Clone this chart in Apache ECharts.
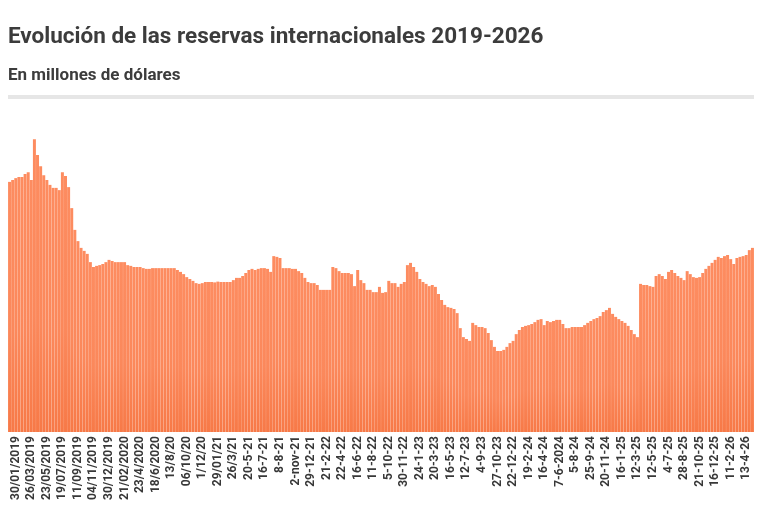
<!DOCTYPE html>
<html>
<head>
<meta charset="utf-8">
<title>Reservas internacionales</title>
<script src="https://cdn.jsdelivr.net/npm/echarts@6/dist/echarts.min.js"></script>
<style>
  html, body { margin: 0; padding: 0; background: #fff; }
  #chart { width: 767px; height: 507px; }
</style>
</head>
<body>
<div id="chart"></div>
<script>
// etiquetas del eje x (una cada 5 barras)
var tickLabels = [
  '30/01/2019', '26/03/2019', '23/05/2019', '19/07/2019', '11/09/2019', '04/11/2019',
  '30/12/2019', '21/02/2020', '23/4/2020', '18/6/2020', '13/8/20', '06/10/20',
  '1/12/20', '29/01/21', '26/3/21', '20-5-21', '16-7-21', '8-8-21',
  '2-nov-21', '29-12-21', '21-2-22', '22-4-22', '16-6-22', '11-8-22',
  '5-10-22', '30-11-22', '24-1-23', '20-3-23', '16-5-23', '12-7-23',
  '4-9-23', '27-10-23', '22-12-22', '19-2-24', '16-4-24', '7-6-2024',
  '5-8-24', '25-9-24', '20-11-24', '16-1-25', '12-3-25', '12-5-25',
  '4-7-25', '28-8-25', '21-10-25', '16-12-25', '11-2-26', '13-4-26'
]
var barsPerLabel = 5

// reservas en millones de dólares
var reservas = [
  66700, 67200, 67700, 68000, 68000,
  68800, 69300, 67200, 78100, 73900,
  70900, 68500, 67200, 65900, 65100,
  65100, 64500, 69300, 68300, 65300,
  59700, 53900, 50900, 49100, 48300,
  47500, 45300, 44000, 44300, 44500,
  44800, 45300, 45900, 45600, 45300,
  45300, 45300, 45300, 44500, 44300,
  44000, 44000, 44000, 43700, 43500,
  43500, 43700, 43700, 43700, 43700,
  43700, 43700, 43700, 43700, 43200,
  42700, 42100, 41300, 40800, 40300,
  39700, 39500, 39700, 40000, 40000,
  40000, 39900, 40100, 40000, 40000,
  40000, 40000, 40500, 41100, 41100,
  41600, 42400, 43200, 43500, 43200,
  43500, 43700, 43700, 43500, 42700,
  46900, 46700, 46400, 43700, 43700,
  43700, 43500, 43500, 42900, 42400,
  41100, 40000, 39700, 39700, 39200,
  37900, 37900, 37900, 37900, 44000,
  43700, 42900, 42400, 42400, 42400,
  42100, 38900, 43200, 40500, 39700,
  37900, 37900, 37300, 37300, 38700,
  37100, 37300, 40300, 39700, 39700,
  38700, 39500, 40000, 44500, 45100,
  44000, 42700, 40800, 40000, 39500,
  38900, 39200, 38700, 36800, 35200,
  33900, 33300, 33100, 32800, 31700,
  27700, 25300, 24800, 24300, 29100,
  28500, 28000, 28000, 27700, 26400,
  24500, 22700, 21600, 21600, 21900,
  22700, 23700, 24300, 26100, 27200,
  28000, 28300, 28500, 28800, 29300,
  29900, 30100, 28500, 29600, 29300,
  29600, 29900, 29900, 28800, 27700,
  27700, 28000, 28000, 28000, 28000,
  28500, 29100, 29600, 30100, 30400,
  30900, 32000, 32500, 33100, 31500,
  30700, 30100, 29600, 29100, 28300,
  27200, 26100, 25300, 39500, 39200,
  39200, 38900, 38700, 41600, 42100,
  41600, 40800, 42700, 43200, 42400,
  41600, 41100, 40500, 42900, 42100,
  41300, 41100, 41300, 42400, 43500,
  44300, 45100, 45900, 46700, 46400,
  46900, 47200, 46100, 44800, 46400,
  46700, 46900, 47200, 48500, 49100
]

// una categoría por barra, con la etiqueta en la barra central de cada grupo
var categorias = []
tickLabels.forEach(function (t) {
  for (var k = 0; k < barsPerLabel; k++) {
    categorias.push(k === Math.floor(barsPerLabel / 2) ? t : '')
  }
})

var chart = echarts.init(document.getElementById('chart'))
chart.setOption({
  animation: false,
  textStyle: { fontFamily: 'Roboto' },
  title: [
    {
      text: 'Evolución de las reservas internacionales 2019-2026',
      left: 8,
      top: 26,
      padding: 0,
      textStyle: { fontSize: 22.5, fontWeight: 'bold', color: '#3c3c3c', fontFamily: 'Roboto' }
    },
    {
      text: 'En millones de dólares',
      left: 8,
      top: 67,
      padding: 0,
      textStyle: { fontSize: 17, fontWeight: 'bold', color: '#3c3c3c', fontFamily: 'Roboto' }
    }
  ],
  graphic: [
    {
      type: 'rect',
      shape: { x: 8, y: 95, width: 746, height: 4 },
      style: { fill: '#e6e6e6' },
      silent: true
    }
  ],
  grid: {
    left: 8,
    right: 13,
    top: 132,
    bottom: 75,
    containLabel: false
  },
  xAxis: {
    type: 'category',
    data: categorias,
    axisLine: { show: false },
    axisTick: { show: false },
    axisLabel: {
      interval: 0,
      rotate: 90,
      margin: 4,
      fontSize: 12,
      fontWeight: 'bold',
      color: '#383838',
      fontFamily: 'Roboto'
    }
  },
  yAxis: {
    type: 'value',
    min: 0,
    max: 80000,
    show: false,
    splitLine: { show: false }
  },
  series: [
    {
      type: 'bar',
      data: reservas,
      barCategoryGap: '4%',
      itemStyle: {
        color: {
          type: 'linear', x: 0, y: 0, x2: 0, y2: 1,
          colorStops: [
            { offset: 0, color: '#fd8c60' },
            { offset: 0.6, color: '#fb885b' },
            { offset: 1, color: '#f77947' }
          ]
        }
      }
    }
  ]
})
</script>
</body>
</html>
